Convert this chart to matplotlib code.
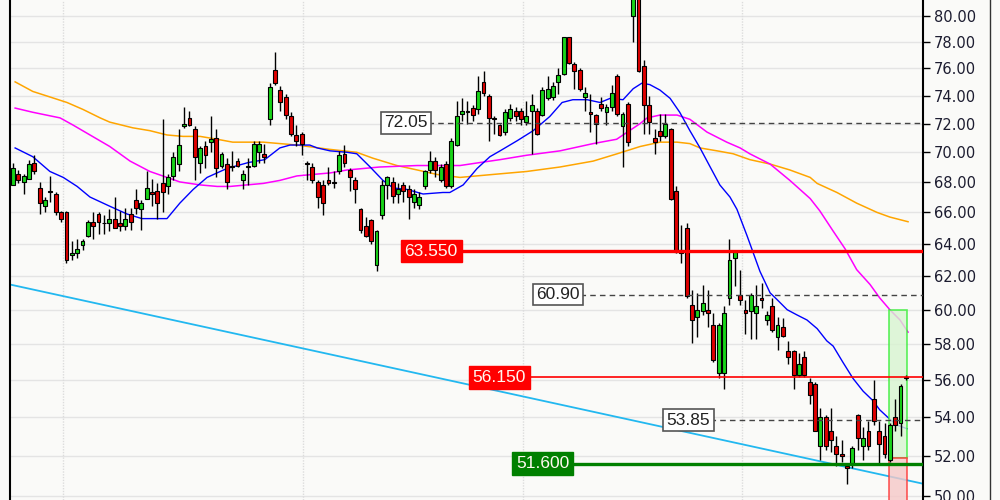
import matplotlib
matplotlib.use('Agg')
import matplotlib.pyplot as plt
from matplotlib.ticker import FixedLocator, FormatStrFormatter, NullLocator
from matplotlib.patches import Rectangle
from matplotlib.lines import Line2D
import numpy as np

# daily candles (oldest first)
opens = [67.8, 68.5, 68.0, 68.2, 69.3, 67.6, 66.4, 67.4, 67.2, 66.0,
         66.0, 63.3, 63.4, 63.9, 64.5, 65.4, 65.9, 65.3, 65.3, 65.6,
         65.3, 65.1, 65.9, 66.8, 66.2, 66.9, 67.3, 67.4, 67.9, 67.7,
         68.4, 69.2, 71.8, 72.4, 71.6, 69.3, 70.4, 70.7, 71.0, 69.1,
         69.2, 69.1, 69.4, 68.1, 69.0, 69.1, 70.0, 69.9, 72.3, 75.9,
         74.4, 73.9, 72.5, 71.2, 71.3, 69.3, 69.0, 68.0, 67.8, 68.1,
         68.0, 68.7, 69.9, 68.8, 68.1, 66.2, 65.1, 65.5, 62.7, 65.8,
         67.8, 68.0, 67.2, 67.8, 67.5, 66.7, 66.5, 67.7, 68.8, 69.4,
         68.1, 69.2, 67.7, 70.5, 72.7, 72.9, 73.1, 73.0, 75.0, 74.0,
         72.4, 71.9, 71.4, 72.4, 72.9, 72.9, 72.1, 72.9, 72.9, 72.6,
         73.8, 73.9, 75.0, 75.6, 78.4, 76.3, 75.9, 73.9, 72.8, 72.6,
         73.4, 72.8, 73.2, 75.4, 71.8, 73.4, 80.0, 82.0, 76.2, 73.3,
         71.0, 71.5, 71.1, 71.6, 67.4, 63.4, 65.0, 60.3, 59.6, 59.9,
         60.0, 59.1, 56.4, 56.4, 60.7, 63.1, 60.9, 60.0, 59.9, 59.8,
         60.7, 59.4, 60.2, 58.4, 59.0, 57.6, 57.6, 56.3, 57.3, 55.9,
         55.8, 52.5, 54.0, 53.3, 52.5, 52.1, 51.5, 51.6, 54.1, 52.5,
         53.3, 55.0, 53.3, 53.0, 51.8, 54.0, 53.7, 56.1]
highs = [69.3, 68.8, 68.5, 69.5, 69.8, 68.0, 67.0, 68.4, 67.3, 66.1,
         66.1, 64.2, 64.3, 64.3, 65.5, 66.0, 66.0, 65.8, 66.2, 67.0,
         66.1, 66.3, 66.3, 67.5, 66.8, 68.7, 68.2, 67.9, 72.3, 68.5,
         70.0, 71.6, 73.2, 72.9, 71.8, 70.4, 70.8, 72.5, 71.6, 70.0,
         69.6, 70.1, 69.6, 68.8, 69.6, 70.8, 70.8, 70.6, 74.9, 77.2,
         74.7, 74.1, 72.8, 71.9, 71.4, 69.4, 69.3, 68.1, 68.1, 69.0,
         68.7, 70.1, 70.5, 68.9, 68.3, 66.3, 65.7, 65.6, 64.9, 68.1,
         68.4, 68.3, 67.9, 68.0, 67.8, 67.5, 67.3, 68.8, 70.1, 69.7,
         69.2, 69.4, 71.0, 73.6, 73.8, 73.6, 73.3, 75.4, 75.8, 74.1,
         72.5, 72.0, 73.0, 73.4, 73.2, 73.1, 73.6, 74.1, 73.1, 74.6,
         75.4, 75.0, 76.0, 78.4, 78.4, 76.5, 76.0, 74.6, 74.1, 72.7,
         73.9, 73.4, 74.8, 75.6, 72.8, 73.5, 82.5, 82.5, 76.6, 74.0,
         71.6, 72.7, 72.7, 71.7, 67.7, 65.2, 65.3, 61.2, 61.0, 61.5,
         61.2, 59.8, 59.2, 60.2, 64.3, 63.6, 62.4, 60.6, 61.0, 61.5,
         61.6, 59.9, 60.7, 59.6, 59.5, 58.2, 57.7, 57.5, 57.6, 56.1,
         55.9, 54.5, 54.1, 54.5, 53.0, 52.8, 51.6, 52.5, 54.2, 53.5,
         53.8, 56.0, 53.8, 53.7, 53.7, 55.0, 55.8, 56.3]
lows = [67.8, 67.9, 67.2, 68.2, 68.5, 65.9, 66.0, 66.7, 65.8, 65.4,
        62.8, 63.0, 63.1, 63.6, 64.4, 64.3, 64.6, 64.6, 64.8, 65.0,
        64.8, 64.9, 64.9, 65.9, 64.9, 66.9, 66.4, 65.6, 66.0, 67.2,
        68.1, 68.7, 71.7, 71.8, 68.1, 68.6, 68.9, 70.0, 68.3, 68.9,
        67.5, 68.7, 69.0, 67.5, 67.8, 69.0, 69.3, 69.3, 71.9, 74.8,
        72.9, 72.3, 71.1, 70.4, 69.8, 68.1, 67.9, 66.3, 65.8, 67.8,
        67.6, 68.5, 69.0, 67.4, 66.6, 64.7, 64.4, 64.0, 62.3, 65.6,
        66.9, 66.6, 66.6, 66.7, 65.6, 66.3, 66.2, 67.5, 68.6, 68.3,
        68.0, 67.6, 67.6, 70.4, 72.2, 72.0, 72.2, 72.7, 74.0, 70.8,
        71.3, 71.1, 71.2, 72.2, 72.2, 71.9, 71.9, 69.9, 71.2, 72.5,
        73.7, 73.7, 74.1, 75.5, 76.3, 74.5, 74.3, 72.9, 71.4, 70.6,
        72.9, 71.9, 72.9, 72.5, 69.0, 70.4, 78.0, 75.7, 71.3, 71.3,
        69.9, 70.8, 71.0, 66.8, 63.4, 62.8, 60.7, 58.1, 58.4, 59.7,
        59.0, 57.0, 56.1, 55.5, 60.3, 61.4, 60.3, 58.6, 58.3, 58.3,
        60.1, 59.1, 58.7, 57.7, 58.4, 56.9, 55.5, 56.2, 56.2, 54.7,
        53.3, 51.8, 52.3, 52.2, 51.5, 51.7, 50.6, 51.4, 52.3, 51.8,
        52.3, 53.6, 51.6, 51.9, 51.7, 53.3, 53.0, 56.0]
closes = [68.9, 68.1, 68.4, 69.2, 68.7, 66.6, 66.8, 67.3, 66.0, 65.6,
          63.0, 63.4, 63.7, 64.2, 65.4, 65.1, 65.4, 65.3, 65.6, 65.0,
          65.1, 65.6, 65.4, 66.3, 66.6, 67.6, 67.2, 66.6, 67.3, 68.3,
          69.7, 70.5, 72.0, 71.9, 69.7, 70.3, 69.8, 70.9, 68.9, 69.9,
          68.0, 69.0, 69.1, 68.5, 69.1, 70.6, 70.6, 69.7, 74.6, 74.9,
          73.5, 72.6, 71.3, 70.8, 70.6, 69.2, 68.1, 67.0, 66.6, 67.9,
          67.9, 69.8, 69.3, 68.3, 67.5, 64.9, 64.5, 64.2, 64.8, 67.8,
          68.3, 67.1, 67.5, 67.4, 67.0, 67.2, 67.0, 68.7, 69.4, 68.8,
          69.0, 67.7, 70.8, 72.5, 72.9, 72.8, 72.6, 74.3, 74.2, 72.4,
          72.3, 71.2, 72.8, 73.0, 72.5, 72.3, 72.5, 73.3, 71.3, 74.4,
          74.5, 74.7, 75.5, 78.4, 76.4, 75.8, 74.5, 74.2, 72.7, 72.0,
          73.1, 73.2, 74.2, 72.7, 72.7, 70.7, 81.8, 75.8, 73.3, 72.1,
          70.7, 71.1, 72.0, 66.9, 63.5, 63.6, 60.8, 59.4, 60.0, 60.4,
          59.8, 57.1, 59.1, 59.8, 63.0, 63.5, 60.6, 59.8, 60.9, 60.2,
          60.6, 59.7, 58.8, 59.1, 58.5, 57.3, 56.3, 56.9, 56.3, 55.2,
          53.3, 54.0, 52.5, 52.8, 52.1, 52.0, 51.4, 52.4, 52.9, 52.9,
          52.5, 53.8, 52.6, 52.1, 53.6, 53.6, 55.7, 56.2]

# moving averages as (bar index, value) points
ma_blue_x = [0.4, 3.7, 6.9, 9.4, 12, 14.4, 18.1, 21.3, 24.1, 26.9, 28.8, 31.2, 33.7, 36.3,
             40, 44, 47.1, 49.9, 51.8, 55.5, 56.9, 59.3, 62.5, 64.3, 66.8, 69.2, 71.1, 73.7,
             76.7, 80.4, 81.7, 84.2, 86.8, 89.2, 91.1, 94.3, 97.3, 100.4, 102.7, 104.7, 107.4,
             109.8, 111.7, 114.1, 116, 117.6, 119.1, 121, 122.9, 124.7, 126.6, 128.5, 130.4,
             132.2, 134.1, 135.4, 137.3, 139.7, 141.6, 142.9, 144.8, 146.6, 148.5, 150.4,
             152.2, 153.4, 155.2, 157.1, 159, 160.8, 162.1, 164, 165.3, 167.2]
ma_blue_y = [70.3, 69.7, 68.7, 68.3, 67.7, 67.0, 66.4, 65.9, 65.6, 65.6, 65.6, 66.6, 67.5, 68.3,
             68.9, 69.3, 69.5, 70.3, 70.5, 70.5, 70.3, 70.1, 70.0, 69.9, 69.0, 68.1, 67.6, 67.5,
             67.2, 67.3, 67.3, 67.8, 68.9, 69.7, 70.1, 70.8, 71.5, 72.5, 73.5, 73.7, 73.7,
             73.5, 73.8, 73.7, 74.5, 74.9, 74.8, 74.4, 73.8, 72.8, 71.5, 70.3, 69.0,
             67.8, 67.0, 66.2, 64.5, 62.3, 61.0, 60.6, 60.0, 59.7, 59.4, 58.9,
             58.2, 57.9, 57.0, 56.1, 55.4, 54.9, 54.4, 53.9, 53.6, 53.4]

ma_pink_x = [0.4, 3.7, 8.8, 11.2, 14.4, 18.1, 21.9, 25.6, 28.8, 31.2, 35, 38.2, 40.6, 46.8,
             49.9, 53.1, 56.1, 59.3, 62.5, 68.6, 75.6, 83.6, 87.3, 91.1, 96.1, 102.3, 108.5,
             112.9, 117.3, 118.6, 121, 124.2, 126.6, 129.8, 133.5, 136, 137.8, 141.6, 145.3,
             149.1, 150.9, 153.4, 155.6, 157.8, 160.3, 162.1, 164, 165.9, 167.4]
ma_pink_y = [73.1, 72.8, 72.4, 71.9, 71.2, 70.4, 69.4, 68.7, 68.3, 68.0, 67.8, 67.7, 67.7, 67.9,
             68.1, 68.4, 68.5, 68.6, 68.8, 69.0, 69.1, 69.1, 69.3, 69.5, 69.8, 70.1, 70.6,
             70.9, 72.0, 72.4, 72.6, 72.6, 72.3, 71.4, 70.7, 70.3, 69.9, 69.2, 68.1,
             66.9, 66.1, 64.8, 63.7, 62.4, 61.5, 60.7, 60.0, 59.4, 58.7]

ma_orange_x = [0.4, 3.7, 6.9, 10.1, 13.1, 16.3, 18.1, 22.4, 25.6, 28.8, 31.8, 35, 38.2, 41.1,
               46.8, 53.1, 59.3, 64.3, 67.3, 71.8, 75.6, 79.3, 83.6, 89.8, 96.1, 102.3, 108.5,
               113, 117.3, 121, 124.2, 126.6, 128.5, 131.7, 134.7, 137.8, 141.6, 145.3, 149.1,
               150.4, 154.1, 157.8, 161.6, 164, 167.4]
ma_orange_y = [75.0, 74.3, 73.9, 73.5, 73.0, 72.4, 72.1, 71.7, 71.5, 71.2, 71.1, 71.1, 70.9, 70.7,
               70.7, 70.5, 70.2, 70.0, 69.6, 69.1, 68.8, 68.5, 68.3, 68.5, 68.7, 69.0, 69.4,
               69.9, 70.4, 70.7, 70.7, 70.6, 70.3, 70.1, 69.9, 69.5, 69.2, 68.8, 68.3,
               67.9, 67.3, 66.6, 66.0, 65.7, 65.4]

# support / resistance levels and where their labels sit (bar index)
box_levels = [72.05, 60.90, 53.85]
box_start = [77.6, 106.0, 130.4]
color_levels = [63.55, 56.15, 51.60]
color_labels = ['63.550', '56.150', '51.600']
color_start = [83.2, 95.9, 104.0]
color_cols = ['#ff0000', '#ff0000', '#008000']
color_widths = [2.4, 1.2, 2.4]

# long falling trend line (bar index, price)
trend_x = [-0.56, 170.2]
trend_y = [61.5, 50.6]

# target / stop zone at the right edge
zone_x = [163.8, 167.2]
zone_top, zone_mid, zone_bottom = 60.0, 51.9, 49.0

# month separators (bar index)
month_x = [9.4, 54.2, 95.4, 136.3]
price_ticks = np.arange(50, 81, 2)

bg = '#fafaf8'
fig = plt.figure(figsize=(10, 5), dpi=100, facecolor=bg)
ax = fig.add_axes([0.010, 0.0, 0.913, 1.0], facecolor=bg)
ax.set_yscale('log')

# grid
for p in price_ticks:
    ax.axhline(p, color='#e4e4e4', lw=1, zorder=0)
for m in month_x:
    ax.axvline(m, color='#dcdcdc', lw=1, ls=(0, (1, 1)), zorder=0)

# trend line and moving averages
ax.plot(trend_x, trend_y, color='#22b8f0', lw=1.3, zorder=1)
ax.plot(ma_orange_x, ma_orange_y, color='#ffa500', lw=1.1, zorder=2)
ax.plot(ma_pink_x, ma_pink_y, color='#ff00ff', lw=1.1, zorder=2)
ax.plot(ma_blue_x, ma_blue_y, color='#0000ff', lw=1.0, zorder=2)

# candles
o = np.array(opens)
c = np.array(closes)
idx = np.arange(len(c))
up = c >= o
lo = np.minimum(o, c)
hi = np.maximum(o, c)
ax.vlines(idx, lows, highs, color='black', lw=1.0, zorder=3)
ax.bar(idx[up], hi[up] - lo[up], bottom=lo[up], width=0.72, color='#19d419',
       edgecolor='black', lw=0.8, zorder=4)
ax.bar(idx[~up], hi[~up] - lo[~up], bottom=lo[~up], width=0.72, color='#e00000',
       edgecolor='black', lw=0.8, zorder=4)

# zone boxes
zw = zone_x[1] - zone_x[0]
ax.add_patch(Rectangle((zone_x[0], zone_mid), zw, zone_top - zone_mid, facecolor='#d8f4d0',
                       edgecolor='#33ee33', lw=1.2, alpha=0.8, zorder=2))
ax.add_patch(Rectangle((zone_x[0], zone_bottom), zw, zone_mid - zone_bottom, facecolor='#f6c8c8',
                       edgecolor='#ff3030', lw=1.2, alpha=0.8, zorder=2))

# dashed levels with white boxes
for lvl, x0 in zip(box_levels, box_start):
    ax.plot([x0, 170.2], [lvl, lvl], color='#444444', lw=1.0, ls=(0, (4, 3)), zorder=5)
    ax.text(x0, lvl, f'{lvl:.2f}', ha='right', va='center', fontsize=12.5,
            family='Liberation Sans', color='#222222', zorder=6,
            bbox=dict(boxstyle='square,pad=0.2', fc='white', ec='#555555', lw=1.2))

# coloured levels with filled boxes
for lvl, lab, x0, col, w in zip(color_levels, color_labels, color_start, color_cols, color_widths):
    ax.plot([x0, 170.2], [lvl, lvl], color=col, lw=w, zorder=5)
    ax.text(x0, lvl, lab, ha='right', va='center', fontsize=12.5, family='Liberation Sans',
            color='#fff8f0', zorder=6,
            bbox=dict(boxstyle='square,pad=0.22', fc=col, ec=col, lw=1))

ax.set_xlim(-0.56, 170.2)
ax.set_ylim(49.8, 81.26)

# price axis on the right
ax.yaxis.tick_right()
ax.yaxis.set_major_locator(FixedLocator(price_ticks))
ax.yaxis.set_major_formatter(FormatStrFormatter('%.2f'))
ax.yaxis.set_minor_locator(NullLocator())
ax.tick_params(axis='y', direction='out', length=5, width=1, pad=3, labelsize=10.5,
               labelcolor='#1c1c30')
ax.set_xticks([])

for s in ['top', 'bottom']:
    ax.spines[s].set_visible(False)
for s in ['left', 'right']:
    ax.spines[s].set_linewidth(1.5)
    ax.spines[s].set_color('black')

# outer frame line on the far right
fig.add_artist(Line2D([0.9895, 0.9895], [0, 1], transform=fig.transFigure, color='#333333', lw=1))

fig.savefig('out.png', dpi=100, facecolor=bg)
